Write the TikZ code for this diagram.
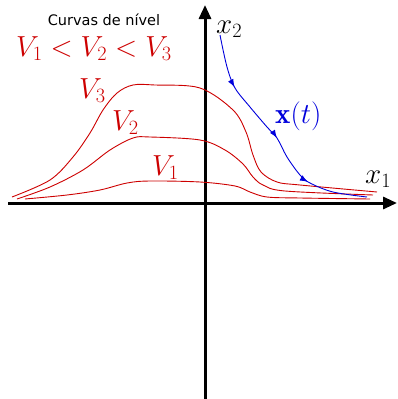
\RequirePackage{fix-cm}
\documentclass[tikz,border=0pt]{standalone}
\usepackage{fontspec}
\newfontfamily\djv{DejaVu Sans}
\usetikzlibrary{arrows.meta,decorations.markings}
\definecolor{cred}{RGB}{205,0,0}
\definecolor{cblue}{RGB}{0,0,220}
\tikzset{
  axis/.style={line width=3pt,-{Triangle[length=14pt,width=12pt]}},
  level/.style={cred,line width=0.9pt},
  big/.style={font=\fontsize{29}{33}\selectfont,inner sep=0pt,anchor=base west},
  traj/.style={cblue,line width=0.9pt,postaction={decorate},
    decoration={markings,
      mark=at position 0.23 with {\arrow{Latex[length=8pt,width=6pt]}},
      mark=at position 0.51 with {\arrow{Latex[length=8pt,width=6pt]}},
      mark=at position 0.74 with {\arrow{Latex[length=8pt,width=6pt]}}}}
}
\begin{document}
\begin{tikzpicture}[x=1pt,y=-1pt]
\useasboundingbox (0,0) rectangle (397,399);
% axes
\coordinate (xs) at (8,203);
\coordinate (xe) at (397,203);
\coordinate (ys) at (205,399);
\coordinate (ye) at (205,5);
\draw[axis] (xs) -- (xe);
\draw[axis] (ys) -- (ye);
% level curves
\draw[level] plot[smooth,tension=0.55] coordinates {(25,199) (67,195) (100,190) (127,183) (150,181) (200,182) (235,186) (250,192) (267,197) (300,198) (370,199)};
\draw[level] plot[smooth,tension=0.55] coordinates {(17,199) (50,187) (83,170) (110,150) (133,138) (150,137) (200,140) (225,150) (243,164) (253,177) (263,185) (285,191) (373,195)};
\draw[level] plot[smooth,tension=0.55] coordinates {(12,197) (50,180) (73,157) (90,133) (103,110) (117,93) (133,85) (155,85) (200,88) (233,110) (246,132) (253,155) (261,172) (277,182) (300,185) (377,192)};
% trajectory
\draw[traj] plot[smooth,tension=0.55] coordinates {(220,35) (227,67) (235,88) (250,107) (267,127) (277,138) (287,157) (300,175) (310,183) (333,192) (367,197)};
% labels
\node[font=\djv\fontsize{14.5}{16}\selectfont,inner sep=0pt] (title) at (104,20) {Curvas de nível};
\node[big,text=cred] (order) at (16,56) {$V_1<V_2<V_3$};
\node[big,text=cred] (v3) at (79,98) {$V_3$};
\node[big,text=cred] (v2) at (112,130) {$V_2$};
\node[big,text=cred] (v1) at (152,175) {$V_1$};
\node[big] (lx2) at (216,33) {$x_2$};
\node[big] (lx1) at (365,183) {$x_1$};
\node[big,text=cblue] (lxt) at (275,123) {$\mathbf{x}(t)$};
\end{tikzpicture}
\end{document}
